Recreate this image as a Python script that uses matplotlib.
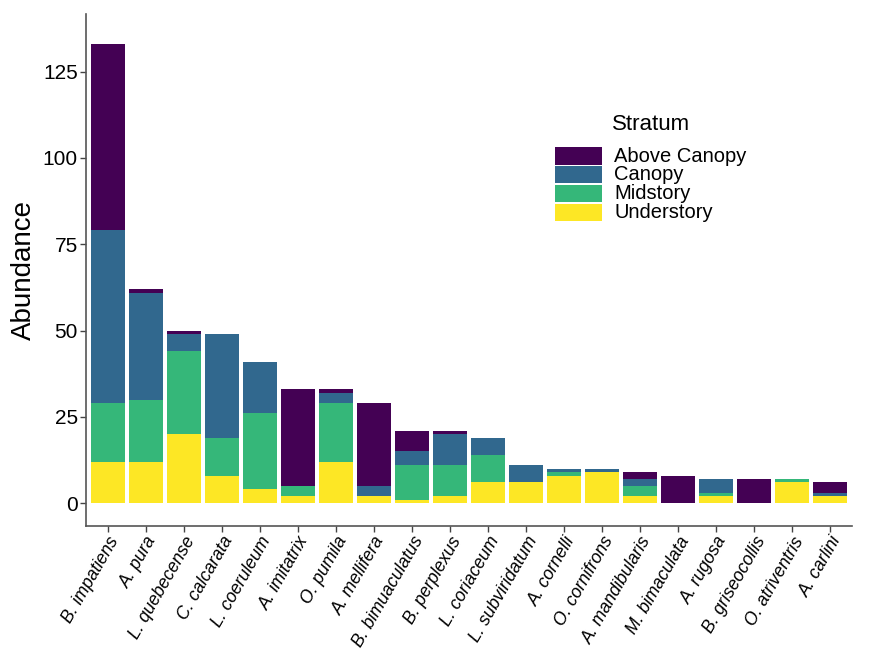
import matplotlib.pyplot as plt
from matplotlib.patches import Rectangle
import numpy as np

plt.rcParams['font.family'] = ['Liberation Sans', 'DejaVu Sans']

species = ['B. impatiens', 'A. pura', 'L. quebecense', 'C. calcarata', 'L. coeruleum',
           'A. imitatrix', 'O. pumila', 'A. mellifera', 'B. bimuaculatus', 'B. perplexus',
           'L. coriaceum', 'L. subviridatum', 'A. cornelli', 'O. cornifrons',
           'A. mandibularis', 'M. bimaculata', 'A. rugosa', 'B. griseocollis',
           'O. atriventris', 'A. carlini']

understory = [12, 12, 20, 8, 4, 2, 12, 2, 1, 2, 6, 6, 8, 9, 2, 0, 2, 0, 6, 2]
midstory = [17, 18, 24, 11, 22, 3, 17, 0, 10, 9, 8, 0, 1, 0, 3, 0, 1, 0, 1, 0]
canopy = [50, 31, 5, 30, 15, 0, 3, 3, 4, 9, 5, 5, 1, 1, 2, 0, 4, 0, 0, 1]
above_canopy = [54, 1, 1, 0, 0, 28, 1, 24, 6, 1, 0, 0, 0, 0, 2, 8, 0, 7, 0, 3]

strata = ['Above Canopy', 'Canopy', 'Midstory', 'Understory']
colors = ['#440154', '#31688E', '#35B779', '#FDE725']

W, H = 883, 650
fig = plt.figure(figsize=(W / 100, H / 100), dpi=100)
ax = fig.add_axes([86 / W, (H - 526) / H, (852 - 86) / W, (526 - 14) / H])

x = np.arange(len(species))
bottom = np.zeros(len(species))
# stack from the ground up
for vals, col in zip([understory, midstory, canopy, above_canopy], colors[::-1]):
    ax.bar(x, vals, width=0.9, bottom=bottom, color=col, linewidth=0)
    bottom += np.array(vals)

ax.set_xlim(-0.575, len(species) - 1 + 0.575)
ax.set_ylim(-6.6, 141.7)
ax.set_yticks([0, 25, 50, 75, 100, 125])
ax.set_xticks(x)
ax.set_xticklabels(species, rotation=60, ha='right', va='top',
                   rotation_mode='anchor', style='italic', fontsize=12.7)
ax.tick_params(axis='y', labelsize=15, length=4, color='#444444', width=1, pad=2)
ax.tick_params(axis='x', length=4, color='#444444', width=1, pad=1.5)
ax.set_ylabel('Abundance', fontsize=20, labelpad=4)

for side in ['top', 'right']:
    ax.spines[side].set_visible(False)
for side in ['left', 'bottom']:
    ax.spines[side].set_color('#555555')
    ax.spines[side].set_linewidth(1.2)

# legend
fig.text(612 / W, 1 - 125 / H, 'Stratum', fontsize=16, ha='left', va='center')
for i, (name, col) in enumerate(zip(strata, colors)):
    yc = 156 + i * 18.7
    fig.add_artist(Rectangle((555 / W, 1 - (yc + 8.5) / H), 47 / W, 17 / H,
                             transform=fig.transFigure, color=col, lw=0))
    fig.text(614 / W, 1 - yc / H, name, fontsize=14.5, ha='left', va='center')

fig.savefig('out.png', dpi=100)
